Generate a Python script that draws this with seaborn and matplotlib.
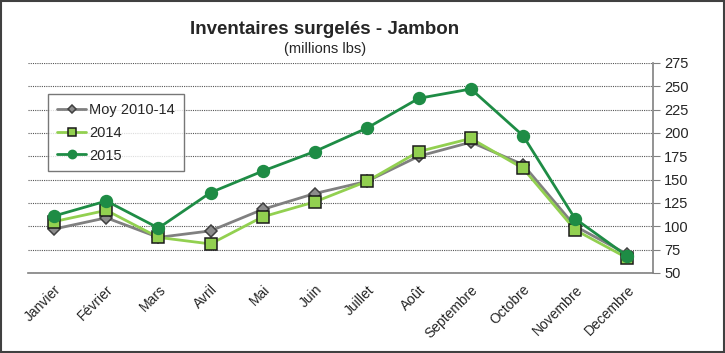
import numpy as np
import pandas as pd
import matplotlib
matplotlib.use("Agg")
import matplotlib.pyplot as plt
from matplotlib.patches import Rectangle
import seaborn as sns

sns.set_style("white")
plt.rcParams['font.family'] = ['Liberation Sans', 'DejaVu Sans']

months = ['Janvier', 'Février', 'Mars', 'Avril', 'Mai', 'Juin', 'Juillet',
          'Août', 'Septembre', 'Octobre', 'Novembre', 'Decembre']
moy = [97, 109, 88, 95, 118, 135, 148, 175, 190, 166, 100, 70]
y2014 = [105, 117, 88, 81, 110, 126, 148, 180, 194, 162, 96, 66]
y2015 = [111, 127, 98, 136, 159, 180, 205, 237, 247, 197, 108, 68]
yticks = [50, 75, 100, 125, 150, 175, 200, 225, 250, 275]

idx = np.arange(len(months))
df = pd.DataFrame({'idx': idx, 'Moy 2010-14': moy, '2014': y2014, '2015': y2015})

fig = plt.figure(figsize=(7.25, 3.53), dpi=100)
ax = fig.add_axes([0.039, 0.227, 0.862, 0.595])

styles = [
    ('Moy 2010-14', '#808080', 'D', '#8c8c8c', '#404040', 6.5),
    ('2014', '#92D050', 's', '#92D050', '#1a1a1a', 8),
    ('2015', '#1E8C45', 'o', '#1E8C45', '#1E8C45', 8.5),
]
for name, col, mk, fc, ec, ms in styles:
    sns.lineplot(data=df, x='idx', y=name, ax=ax, color=col, lw=2,
                 marker=mk, markersize=ms, markerfacecolor=fc,
                 markeredgecolor=ec, markeredgewidth=1.1, label=name)

ax.set_xlim(-0.5, 11.5)
ax.set_ylim(50, 275)
ax.set_yticks(yticks)
ax.yaxis.tick_right()
ax.yaxis.set_label_position('right')
ax.grid(axis='y', color='#555555', ls=(0, (1, 1)), lw=0.8)
ax.set_xticks(idx)
ax.set_xticklabels(months, rotation=45, ha='right', rotation_mode='anchor', fontsize=10)
ax.set_xticks(np.arange(-0.5, 12, 1), minor=True)
ax.tick_params(axis='x', which='major', length=0, pad=7)
ax.tick_params(axis='x', which='minor', length=5, color='#808080', width=1)
ax.tick_params(axis='y', length=5, color='#808080', labelsize=10.5, pad=3, right=True)
ax.set_xlabel('')
ax.set_ylabel('')
for s in ['top', 'left']:
    ax.spines[s].set_visible(False)
for s in ['bottom', 'right']:
    ax.spines[s].set_color('#808080')
    ax.spines[s].set_linewidth(1.2)

leg = ax.legend(loc='upper left', bbox_to_anchor=(0.032, 0.85), fontsize=10.5,
                frameon=True, fancybox=False, edgecolor='#555555',
                borderpad=0.6, labelspacing=0.6, handlelength=2.0,
                handletextpad=0.2, markerscale=0.7, borderaxespad=0)
leg.get_frame().set_linewidth(1)

fig.text(0.448, 0.905, 'Inventaires surgelés - Jambon', ha='center',
         fontsize=13.5, fontweight='bold')
fig.text(0.448, 0.85, '(millions lbs)', ha='center', fontsize=10.5)

fig.patches.append(Rectangle((0.002, 0.003), 0.996, 0.994, transform=fig.transFigure,
                             fill=False, edgecolor='#404040', lw=1.5))

fig.savefig('out.png', dpi=100)
